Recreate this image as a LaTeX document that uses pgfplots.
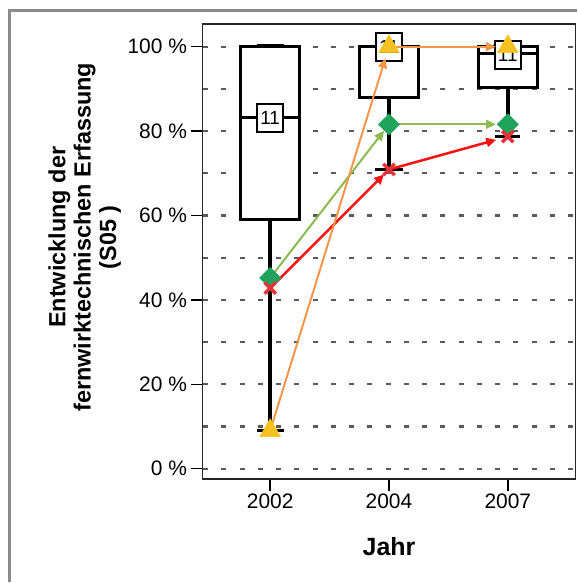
\documentclass[border=0pt]{standalone}
\usepackage{fontspec}
\setmainfont{Liberation Sans}
\usepackage{pgfplots}
\pgfplotsset{compat=1.18}
\usetikzlibrary{arrows.meta}
\definecolor{lgreen}{HTML}{8CB950}
\definecolor{dgreen}{HTML}{1FA35C}
\definecolor{lred}{HTML}{FF1010}
\definecolor{xred}{HTML}{E8323A}
\definecolor{lorange}{HTML}{F5954A}
\definecolor{gold}{HTML}{F5C11E}
\definecolor{gridc}{HTML}{5A5A5A}
\definecolor{framec}{HTML}{8A8A8A}
\begin{document}
\begin{tikzpicture}
\begin{axis}[
  width=374pt, height=456pt, scale only axis,
  xmin=-0.57, xmax=2.57, ymin=-2.4, ymax=105.4,
  xtick={0,1,2}, xticklabels={2002,2004,2007},
  ytick={0,20,40,60,80,100},
  yticklabels={0 \%,20 \%,40 \%,60 \%,80 \%,100 \%},
  minor ytick={10,30,50,70,90},
  ymajorgrids, yminorgrids,
  major grid style={dash pattern=on 5pt off 13.3pt, dash phase=-19pt, line width=2.2pt, color=gridc},
  minor grid style={dash pattern=on 5pt off 13.3pt, dash phase=-19pt, line width=2.2pt, color=gridc},
  tick pos=left, tick align=outside,
  major tick length=12pt, minor tick length=0pt,
  every tick/.style={black, line width=1.5pt},
  axis line style={line width=1.5pt, color=black!85},
  tick label style={font=\fontsize{21}{24}\selectfont},
  xlabel={Jahr},
  xlabel style={font=\bfseries\fontsize{25}{25}\selectfont, at={(rel axis cs:0.5,-0.149)}, anchor=center},
  ylabel={Entwicklung der\\fernwirktechnischen Erfassung\\(S05 )},
  ylabel style={align=center, font=\bfseries\fontsize{23.5}{25.5}\selectfont, at={(rel axis cs:-0.209,0.531)}, anchor=south},
  unbounded coords=jump,
]
% boxes (quartiles)
\addplot[black, line width=3pt, fill=white, mark=none] coordinates {(-0.25,59.1) (0.25,59.1) (0.25,100) (-0.25,100)} -- cycle;
\addplot[black, line width=3pt, fill=white, mark=none] coordinates {(0.75,88) (1.25,88) (1.25,100) (0.75,100)} -- cycle;
\addplot[black, line width=3pt, fill=white, mark=none] coordinates {(1.75,90.3) (2.25,90.3) (2.25,100) (1.75,100)} -- cycle;
% medians
\addplot[black, line width=3pt, mark=none] coordinates {(-0.25,83.2) (0.25,83.2) (nan,nan) (0.75,100) (1.25,100) (nan,nan) (1.75,98.5) (2.25,98.5)};
% whiskers
\addplot[black, line width=3.5pt, mark=none] coordinates {(0,9) (0,59.1) (nan,nan) (1,70.9) (1,88) (nan,nan) (2,78.7) (2,90.3)};
\addplot[black, line width=3pt, mark=none] coordinates {(-0.115,9) (0.115,9) (nan,nan) (-0.115,100.4) (0.115,100.4) (nan,nan) (0.885,70.9) (1.115,70.9) (nan,nan) (1.895,78.7) (2.105,78.7)};
% count labels
\node[draw=black, line width=2pt, fill=white, minimum width=26pt, minimum height=28pt, inner sep=0pt, font=\fontsize{19}{19}\selectfont] at (axis cs:0,83.2) {11};
\node[draw=black, line width=2pt, fill=white, minimum width=26pt, minimum height=28pt, inner sep=0pt, font=\fontsize{19}{19}\selectfont] at (axis cs:1,100) {11};
\node[draw=black, line width=2pt, fill=white, minimum width=26pt, minimum height=28pt, inner sep=0pt, font=\fontsize{19}{19}\selectfont] at (axis cs:2,98) {11};
% connecting lines with arrows
\addplot[lgreen, line width=2pt, mark=none, -{Triangle[length=10pt,width=9pt]}, shorten >=8pt] coordinates {(0,45.2) (1,81.6)};
\addplot[lgreen, line width=2pt, mark=none, -{Triangle[length=10pt,width=9pt]}, shorten >=12pt] coordinates {(1,81.6) (2,81.6)};
\addplot[lred, line width=2.5pt, mark=none, -{Triangle[length=10pt,width=9pt]}, shorten >=7pt] coordinates {(0,42.8) (1,70.9)};
\addplot[lred, line width=2.5pt, mark=none, -{Triangle[length=10pt,width=9pt]}, shorten >=12pt] coordinates {(1,70.9) (2,78.7)};
\addplot[lorange, line width=2pt, mark=none, -{Triangle[length=10pt,width=9pt]}, shorten >=12pt] coordinates {(0,9) (1,100)};
\addplot[lorange, line width=2pt, mark=none, -{Triangle[length=10pt,width=9pt]}, shorten >=12pt] coordinates {(1,100) (2,100)};
% markers
\addplot[only marks, mark=square*, mark size=7.5pt, mark options={rotate=45, fill=dgreen, draw=dgreen, line width=0.5pt}] coordinates {(0,45.2) (1,81.6) (2,81.6)};
\addplot[only marks, mark=x, mark size=8pt, mark options={draw=xred, line width=3.5pt}] coordinates {(0,42.8) (1,70.9) (2,78.7)};
\addplot[only marks, mark=triangle*, mark size=12pt, mark options={fill=gold, draw=gold, line width=0.5pt}] coordinates {(0,9) (1,100) (2,100)};
\end{axis}
\draw[framec, line width=3pt] ([xshift=-193pt,yshift=-103pt]current axis.south west) -- ([xshift=-193pt,yshift=13pt]current axis.north west) -- ([xshift=1pt,yshift=13pt]current axis.north east);
\path ([xshift=-203pt,yshift=-103pt]current axis.south west) rectangle ([xshift=1pt,yshift=24pt]current axis.north east);
\end{tikzpicture}
\end{document}
